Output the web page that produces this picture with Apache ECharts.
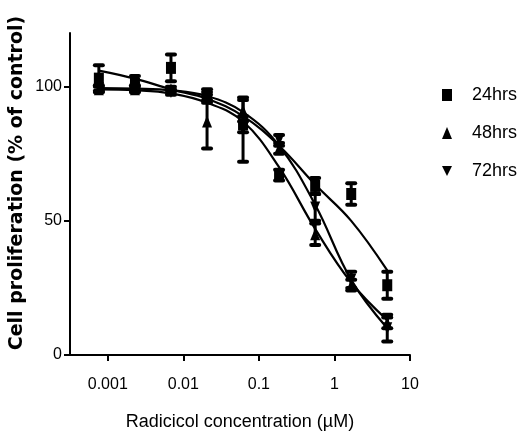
<!DOCTYPE html>
<html><head><meta charset="utf-8">
<script src="https://cdn.jsdelivr.net/npm/echarts@6/dist/echarts.min.js"></script>
<style>html,body{margin:0;padding:0;background:#fff}#c{width:522px;height:436px}</style>
</head><body><div id="c"></div>
<script>
// concentrations (µM)
var conc = [0.000762, 0.00229, 0.00686, 0.0206, 0.0617, 0.185, 0.556, 1.667, 5];
// means and SEM
var mean24 = [103, 101, 107, 97, 86, 67, 63, 60, 26];
var err24  = [5, 3, 5, 2, 3, 2, 3, 4, 5];
var mean48 = [99, 99, 99, 87, 91, 77, 45, 26, 12];
var err48  = [1, 1, 1, 10, 4, 2, 4, 2, 2];
var mean72 = [99.5, 99.5, 98, 96, 84, 80, 55, 28, 10];
var err72  = [1, 1, 1, 2, 12, 2, 5, 3, 5];
// fitted curves read at the same concentrations
var fit24 = [106, 103, 99, 95.5, 89, 78, 63.5, 50, 31.5];
var fit48 = [99, 98.7, 97.5, 94, 87, 70, 47, 27, 13];
var fit72 = [99.5, 99.3, 98.7, 96.5, 90.5, 78, 56, 28, 10];
// axis ticks
var xTickValues = [0.001, 0.01, 0.1, 1, 10];
var xTickLabels = ['0.001', '0.01', '0.1', '1', '10'];
var yTickValues = [0, 50, 100];
var seriesNames = ['24hrs', '48hrs', '72hrs'];

var FONT = "'Liberation Sans',Arial,sans-serif";
function lg(v){ return Math.log10(v); }
var xTicksLog = xTickValues.map(lg);

function pts(m){ return conc.map(function(c,i){ return [lg(c), m[i]]; }); }
function errs(m,e){ return conc.map(function(c,i){ return [lg(c), m[i]-e[i], m[i]+e[i]]; }); }

function errRender(params, api){
  var x = api.value(0), lo = api.value(1), hi = api.value(2);
  var p1 = api.coord([x, lo]), p2 = api.coord([x, hi]);
  var w = 4;
  return {type:'group', children:[
    {type:'line', shape:{x1:p1[0],y1:p1[1],x2:p2[0],y2:p2[1]}, style:{stroke:'#000',lineWidth:3}},
    {type:'line', shape:{x1:p1[0]-w,y1:p1[1],x2:p1[0]+w,y2:p1[1]}, style:{stroke:'#000',lineWidth:4,lineCap:'round'}},
    {type:'line', shape:{x1:p2[0]-w,y1:p2[1],x2:p2[0]+w,y2:p2[1]}, style:{stroke:'#000',lineWidth:4,lineCap:'round'}}
  ]};
}

var means = [mean24, mean48, mean72], errsArr = [err24, err48, err72], fits = [fit24, fit48, fit72];
var symbols = ['rect', 'triangle', 'triangle'];
var rots = [0, 0, 180];
var series = [];
for (var k=0;k<3;k++){
  series.push({type:'line', data: pts(fits[k]), smooth:0.4, showSymbol:false, symbol:'none',
    lineStyle:{color:'#000', width:2.2}, z:2, silent:true});
  series.push({type:'custom', data: errs(means[k], errsArr[k]), renderItem: errRender,
    encode:{x:0,y:[1,2]}, z:3, silent:true});
  series.push({type:'scatter', name: seriesNames[k], data: pts(means[k]), symbol: symbols[k],
    symbolRotate: rots[k], symbolSize:[10,12], itemStyle:{color:'#000', opacity:1}, z:4});
}

var chart = echarts.init(document.getElementById('c'));
chart.setOption({
  animation:false,
  grid:{left:70, right:112, top:33, bottom:78},
  legend:{orient:'vertical', left:442, top:86, padding:0, itemGap:20, itemWidth:10, itemHeight:12,
    textStyle:{fontFamily:FONT, fontSize:18, color:'#000', padding:[0,0,0,15]},
    data:[{name:'24hrs', icon:'rect'},{name:'48hrs', icon:'triangle'},{name:'72hrs', icon:'path://M0,0L10,0L5,10Z'}]},
  xAxis:{type:'value', min:-3.5, max:1,
    axisLine:{lineStyle:{color:'#000', width:2}, onZero:false},
    axisTick:{customValues:xTicksLog, length:6, lineStyle:{color:'#000', width:2}},
    axisLabel:{customValues:xTicksLog, margin:22, color:'#000', fontFamily:FONT, fontSize:16,
      formatter:function(v){ var i = xTicksLog.findIndex(function(t){return Math.abs(t-v)<1e-6;}); return i>=0?xTickLabels[i]:''; }},
    splitLine:{show:false},
    name:'Radicicol concentration (\u00b5M)', nameLocation:'middle', nameGap:58,
    nameTextStyle:{fontFamily:FONT, fontSize:18, color:'#000'}},
  yAxis:{type:'value', min:0, max:120,
    axisLine:{show:true, onZero:false, lineStyle:{color:'#000', width:2}},
    axisTick:{show:true, customValues:yTickValues, length:6, lineStyle:{color:'#000', width:2}},
    axisLabel:{customValues:yTickValues, margin:8, color:'#000', fontFamily:FONT, fontSize:16},
    splitLine:{show:false}},
  graphic:[{type:'text', x:17, y:183, rotation:Math.PI/2,
    style:{text:'Cell proliferation (% of control)', fill:'#000', font:"bold 19px 'DejaVu Sans',sans-serif",
      textAlign:'center', textVerticalAlign:'middle'}}],
  series: series
});
</script></body></html>
